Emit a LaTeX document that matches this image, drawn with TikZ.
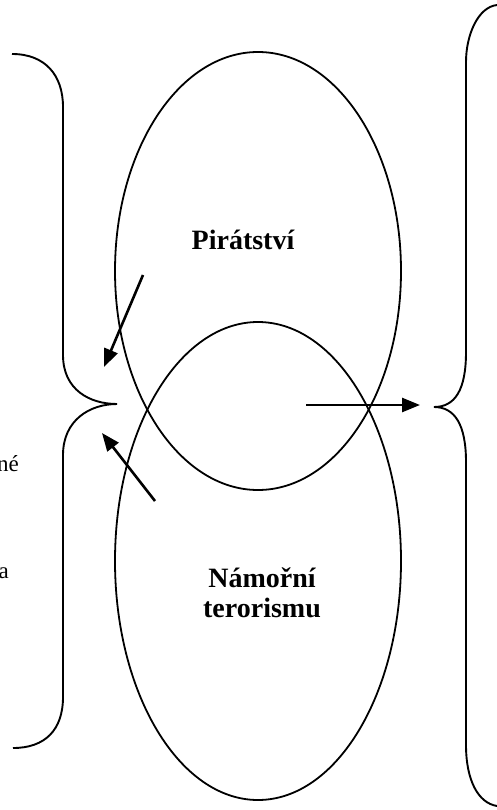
\documentclass[tikz,border=0pt]{standalone}
\usepackage{fontspec}
\setmainfont{Liberation Serif}
\usepackage{tikz}
\usetikzlibrary{positioning,arrows.meta,shapes.geometric}
\tikzset{
  bubble/.style={draw,ellipse,line width=1.8pt,inner sep=0pt,
                 minimum width=286pt},
  label/.style={font=\fontsize{28}{30}\selectfont\bfseries,align=center},
  cut/.style={font=\fontsize{23}{26}\selectfont,anchor=base east,inner sep=0pt},
  pointer/.style={-{Triangle[length=18pt,width=14pt]},line width=2.6pt},
  curly/.style={line width=1.9pt},
}

\begin{document}
\begin{tikzpicture}[x=1pt,y=-1pt]
  \useasboundingbox (0,0) rectangle (497,810);
  \clip (0,0) rectangle (497,810);
  % the two overlapping sets
  \node[bubble,minimum height=438pt] (piracy) at (258,271) {};
  \node[bubble,minimum height=478pt] (terror) at (258,561) {};
  \node[label] (piratext) at (243,240) {Pirátství};
  \node[label] (terrtext) at (262,593) {Námořní\\terorismu};
  % left-hand text, cut off by the page edge
  \node[cut] (leftA) at (19,471) {né};
  \node[cut] (leftB) at (9,578) {a};
  % braces
  \draw[curly] (12,54) .. controls (45,54) and (63,75) .. (63,107)
    -- (63,355) .. controls (63,390) and (90,404) .. (117,404)
    .. controls (90,404) and (63,420) .. (63,455)
    -- (63,697) .. controls (63,730) and (45,748) .. (13,748);
  \draw[curly] (497,5) .. controls (478,7) and (466,35) .. (466,62)
    -- (466,352) .. controls (466,390) and (455,407) .. (434,407)
    .. controls (455,407) and (466,425) .. (466,462)
    -- (466,745) .. controls (466,780) and (478,803) .. (497,806);
  % arrows
  \coordinate (upTail) at (143,275);
  \coordinate (upTip) at (104,367);
  \coordinate (lowTail) at (155,501);
  \coordinate (lowTip) at (102,433);
  \coordinate (midTail) at (306,405);
  \coordinate (midTip) at (420,405);
  \draw[pointer] (upTail) -- (upTip);
  \draw[pointer] (lowTail) -- (lowTip);
  \draw[pointer] (midTail) -- (midTip);
\end{tikzpicture}
\end{document}
